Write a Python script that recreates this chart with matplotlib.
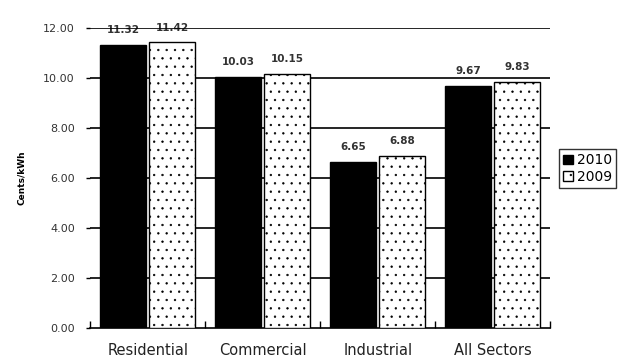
import matplotlib
matplotlib.use("Agg")
import matplotlib.pyplot as plt
import numpy as np

sectors = ["Residential", "Commercial", "Industrial", "All Sectors"]
years = ["2010", "2009"]
price_2010 = [11.32, 10.03, 6.65, 9.67]
price_2009 = [11.42, 10.15, 6.88, 9.83]
yticks = [0, 2, 4, 6, 8, 10, 12]

plt.rcParams["hatch.linewidth"] = 0.45
plt.rcParams["hatch.color"] = "#555555"
fig = plt.figure(figsize=(6.26, 3.63), dpi=100)
ax = fig.add_axes([0.144, 0.0964, 0.735, 0.8266])

x = np.arange(len(sectors))
w = 0.40
b1 = ax.bar(x - 0.215, price_2010, w, color="black", edgecolor="black",
            linewidth=1, label=years[0], zorder=3)
b2 = ax.bar(x + 0.215, price_2009, w, color="white", edgecolor="black",
            linewidth=1, hatch="..", label=years[1], zorder=3)

for bars, vals in [(b1, price_2010), (b2, price_2009)]:
    for r, v in zip(bars, vals):
        ax.annotate("%.2f" % v, (r.get_x() + r.get_width() / 2, v),
                    xytext=(0, 7), textcoords="offset points",
                    ha="center", va="bottom", fontsize=7.5, fontweight="bold",
                    color="#333333", zorder=1)

ax.set_xlim(-0.5, len(sectors) - 0.5)
ax.set_ylim(0, 12)
for t in yticks[1:]:
    ax.axhline(t, color="black", lw=1.2, zorder=2)

ax.set_yticks(yticks)
ax.set_yticklabels(["%.2f" % t for t in yticks], fontsize=8, color="#333333")
ax.tick_params(axis="y", direction="out", length=3, width=1, pad=8)
ax.set_xticks(x)
ax.set_xticklabels(sectors, fontsize=10.5, color="#222222")
ax.tick_params(axis="x", length=0, pad=11)
ax.set_xticks(np.arange(len(sectors) + 1) - 0.5, minor=True)
ax.tick_params(axis="x", which="minor", direction="in", length=5, width=1)

for s in ["top", "right", "left"]:
    ax.spines[s].set_visible(False)
ax.spines["bottom"].set_linewidth(1.2)

ax.set_ylabel("Cents/kWh", fontsize=6.5, fontweight="bold", labelpad=12)

fig.legend(handles=[b1, b2], loc="center left", bbox_to_anchor=(0.893, 0.535),
           fontsize=10, frameon=True, fancybox=False, edgecolor="black",
           handlelength=0.7, handleheight=0.7, handletextpad=0.3,
           borderpad=0.3, labelspacing=0.2, borderaxespad=0)

fig.savefig("out.png", dpi=100)
